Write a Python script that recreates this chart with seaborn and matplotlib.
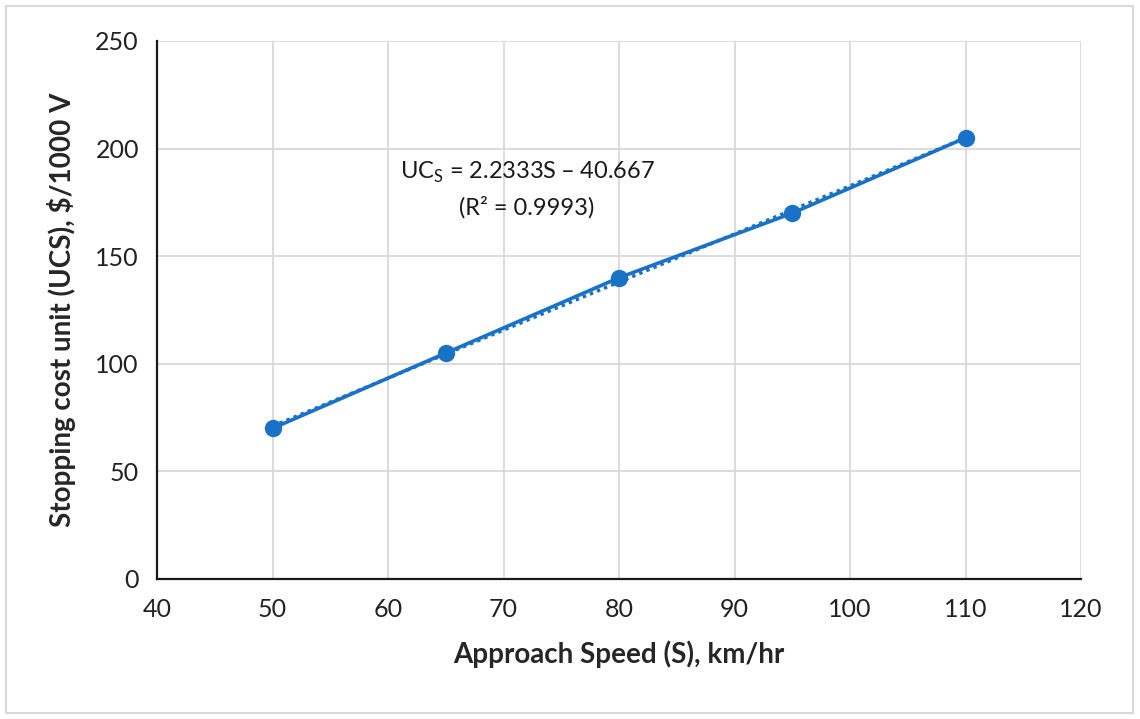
import numpy as np
import pandas as pd
import matplotlib
matplotlib.use("Agg")
import matplotlib.pyplot as plt
import seaborn as sns
from matplotlib.patches import Rectangle

speed = [50, 65, 80, 95, 110]
cost = [70, 105, 140, 170, 205]
x_ticks = [40, 50, 60, 70, 80, 90, 100, 110, 120]
y_ticks = [0, 50, 100, 150, 200, 250]

df = pd.DataFrame({"speed": speed, "cost": cost})

sns.set_theme(style="white")
plt.rcParams['font.family'] = ['Lato', 'DejaVu Sans']

fig = plt.figure(figsize=(11.4, 7.19), dpi=100)
ax = fig.add_axes([157/1140, 1-579/719, (1081-157)/1140, (579-41)/719])

blue = "#1A72C8"
# trendline (dotted)
slope, intercept = np.polyfit(speed, cost, 1)
xs = np.array([min(speed), max(speed)])
ax.plot(xs, slope*xs + intercept, color=blue, lw=2.5, ls=(0, (1, 1.2)), zorder=3)
sns.lineplot(data=df, x="speed", y="cost", ax=ax, color=blue, lw=2.6,
             marker="o", markersize=12.5, markeredgewidth=0, zorder=4)

ax.set_xlim(40, 120)
ax.set_ylim(0, 250)
ax.set_xticks(x_ticks)
ax.set_yticks(y_ticks)
ax.grid(True, color="#d9d9d9", lw=1.3)
ax.set_axisbelow(True)
for s in ["top", "right"]:
    ax.spines[s].set_visible(False)
for s in ["left", "bottom"]:
    ax.spines[s].set_color("#1a1a1a")
    ax.spines[s].set_linewidth(1.6)
ax.tick_params(axis="both", length=0, labelsize=18, colors="#222222")
ax.tick_params(axis="x", pad=14)
ax.tick_params(axis="y", pad=13)
ax.set_xlabel("Approach Speed (S), km/hr", fontsize=20, fontweight="bold", labelpad=14)
ax.set_ylabel("Stopping cost unit (UCS), $/1000 V", fontsize=20, fontweight="bold", labelpad=14)

ax.text(527, 719-172, r"UC$_\mathregular{S}$ = 2.2333S – 40.667", transform=None,
        fontsize=17, ha="center", va="center", color="#1a1a1a")
ax.text(527, 719-207, "(R² = 0.9993)", transform=None,
        fontsize=17, ha="center", va="center", color="#1a1a1a")

fig.patches.append(Rectangle((6/1140, 6/719), 1127/1140, 707/719, transform=fig.transFigure,
                             fill=False, edgecolor="#d9d9d9", lw=1.5))
fig.savefig("out.png", dpi=100)
